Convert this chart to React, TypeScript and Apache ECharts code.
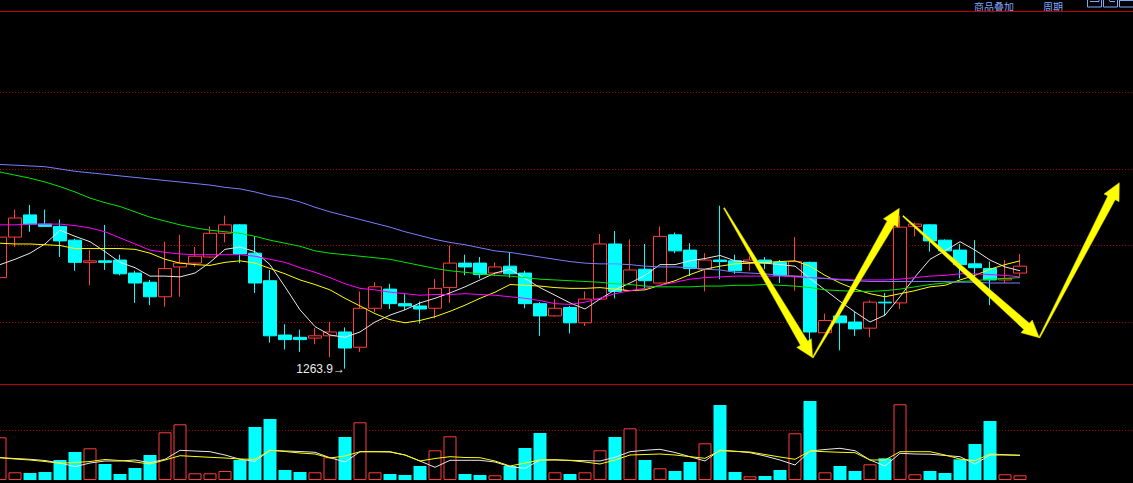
import React, { useEffect, useRef } from "react";
import * as echarts from "echarts";

// ---- DATA ----
const categories = Array.from({ length: 77 }, (_, i) => String(i + 1));

const openPrices = [
  1275.8, 1281.1, 1284.0, 1282.8, 1282.5, 1280.7, 1277.8, 1278.0, 1278.1, 1276.4,
  1275.2, 1273.3, 1277.2, 1277.7, 1278.5, 1281.6, 1282.7, 1279.0, 1275.4, 1268.3,
  1268.0, 1267.9, 1268.2, 1268.7, 1266.7, 1271.8, 1274.3, 1272.4, 1272.1, 1271.8,
  1274.5, 1277.7, 1277.7, 1276.4, 1277.3, 1276.4, 1272.4, 1270.8, 1271.9, 1269.9,
  1273.0, 1280.2, 1274.1, 1276.9, 1275.1, 1281.4, 1279.4, 1276.9, 1278.1, 1278.0,
  1277.7, 1278.1, 1277.8, 1276.0, 1277.8, 1268.6, 1270.8, 1270.0, 1269.2, 1272.6,
  1272.5, 1282.5, 1282.7, 1280.7, 1279.4, 1277.6, 1277.0, 1275.5, 1276.4,
];
const closePrices = [
  1281.1, 1283.6, 1282.8, 1282.5, 1280.6, 1277.8, 1278.0, 1277.8, 1276.3, 1275.1,
  1273.3, 1277.0, 1277.7, 1278.6, 1281.6, 1282.7, 1278.9, 1275.1, 1268.2, 1267.7,
  1267.7, 1268.2, 1268.7, 1266.6, 1271.8, 1274.6, 1272.4, 1272.1, 1271.7, 1274.4,
  1277.7, 1277.2, 1276.2, 1277.2, 1276.3, 1272.4, 1270.8, 1271.8, 1269.9, 1273.0,
  1280.2, 1274.0, 1276.8, 1275.4, 1281.2, 1279.3, 1277.0, 1278.1, 1277.9, 1276.7,
  1278.1, 1277.7, 1276.1, 1277.9, 1268.7, 1270.2, 1269.9, 1269.1, 1272.6, 1272.5,
  1282.4, 1282.8, 1280.6, 1279.3, 1277.5, 1277.1, 1275.5, 1275.7, 1277.3,
];
const lowPrices = [
  1274.6, 1279.8, 1281.8, 1282.5, 1278.5, 1276.7, 1274.8, 1276.8, 1276.1, 1272.5,
  1272.2, 1272.0, 1273.3, 1277.2, 1278.4, 1280.4, 1277.7, 1273.8, 1267.3, 1266.4,
  1266.1, 1267.1, 1265.4, 1263.9, 1266.1, 1271.3, 1271.7, 1271.6, 1269.8, 1270.5,
  1272.5, 1276.1, 1275.7, 1276.0, 1275.8, 1271.8, 1268.2, 1270.7, 1268.5, 1269.5,
  1272.9, 1273.1, 1274.0, 1274.4, 1275.0, 1279.0, 1276.0, 1274.0, 1275.6, 1276.3,
  1276.7, 1276.9, 1275.1, 1274.1, 1266.8, 1268.6, 1266.3, 1268.2, 1268.0, 1270.8,
  1271.7, 1281.2, 1279.2, 1279.2, 1275.7, 1275.9, 1272.2, 1275.1, 1276.0,
];
const highPrices = [
  1284.4, 1284.7, 1285.3, 1284.7, 1283.4, 1280.9, 1279.4, 1282.7, 1278.8, 1276.7,
  1275.5, 1280.5, 1281.4, 1279.8, 1282.5, 1283.9, 1282.8, 1281.2, 1276.8, 1269.7,
  1269.0, 1269.2, 1270.0, 1269.3, 1274.0, 1275.2, 1275.0, 1273.7, 1272.7, 1275.6,
  1280.0, 1278.8, 1278.5, 1277.8, 1279.1, 1276.7, 1272.6, 1273.0, 1272.1, 1274.0,
  1281.5, 1281.9, 1280.8, 1280.2, 1282.5, 1281.7, 1280.3, 1279.0, 1285.2, 1278.8,
  1278.6, 1278.5, 1278.1, 1281.1, 1277.9, 1271.1, 1271.1, 1271.3, 1272.8, 1273.8,
  1283.9, 1283.0, 1282.8, 1280.8, 1280.2, 1280.7, 1277.9, 1278.1, 1278.9,
];

const ma5 = [
  1277.5, 1278.2, 1279.0, 1280.2, 1282.0, 1281.2, 1280.5, 1279.2, 1277.8, 1277.1,
  1276.0, 1276.0, 1275.9, 1276.4, 1277.8, 1279.5, 1279.8, 1279.2, 1277.5, 1274.6,
  1271.6, 1269.4, 1268.3, 1268.0, 1268.7, 1270.0, 1270.9, 1271.6, 1272.5, 1273.1,
  1273.8, 1274.6, 1275.5, 1276.4, 1276.9, 1275.7, 1274.5, 1273.5, 1272.5, 1271.7,
  1273.0, 1274.2, 1275.1, 1276.1, 1277.5, 1277.5, 1278.0, 1278.3, 1278.7, 1278.0,
  1277.8, 1277.7, 1277.5, 1277.3, 1275.7, 1274.2, 1272.7, 1271.3, 1270.0, 1270.9,
  1273.3, 1275.9, 1278.2, 1279.3, 1280.5, 1279.4, 1278.1, 1277.2, 1276.7,
];
const ma10 = [
  1280.3, 1280.2, 1280.2, 1280.1, 1280.0, 1279.6, 1279.6, 1279.6, 1279.6, 1279.5,
  1279.0, 1278.2, 1277.7, 1277.5, 1277.4, 1277.8, 1278.0, 1277.7, 1277.0, 1276.3,
  1275.5, 1274.9, 1274.2, 1273.1, 1272.1, 1271.1, 1270.3, 1269.9, 1270.2, 1270.7,
  1271.4, 1272.2, 1273.1, 1273.9, 1274.9, 1274.8, 1274.7, 1274.5, 1274.4, 1274.4,
  1274.5, 1274.3, 1274.1, 1274.2, 1274.8, 1275.4, 1276.2, 1276.9, 1277.3, 1277.6,
  1277.7, 1277.8, 1277.9, 1278.0, 1277.3, 1276.1, 1275.1, 1274.3, 1273.7, 1273.3,
  1273.7, 1274.1, 1274.6, 1274.8, 1275.5, 1276.1, 1276.9, 1277.5, 1278.0,
];
const ma20 = [
  1282.7, 1282.7, 1282.8, 1282.8, 1282.8, 1282.6, 1282.3, 1281.8, 1281.0, 1280.2,
  1279.4, 1279.1, 1278.9, 1278.8, 1278.8, 1278.8, 1278.8, 1278.6, 1278.2, 1277.8,
  1277.1, 1276.5, 1275.8, 1275.0, 1274.4, 1274.2, 1273.9, 1273.7, 1273.5, 1273.6,
  1273.6, 1273.7, 1273.6, 1273.5, 1273.3, 1273.1, 1272.8, 1272.4, 1272.3, 1272.6,
  1273.1, 1273.7, 1274.1, 1274.4, 1274.8, 1275.2, 1275.6, 1275.8, 1275.9, 1276.0,
  1276.0, 1276.0, 1276.0, 1275.9, 1275.8, 1275.7, 1275.6, 1275.5, 1275.5, 1275.5,
  1275.6, 1275.8, 1276.0, 1276.1, 1276.3, 1276.3, 1276.2, 1276.1, 1275.9,
];
const ma40 = [
  1289.6, 1289.2, 1288.8, 1288.3, 1287.7, 1287.0, 1286.2, 1285.6, 1285.1, 1284.4,
  1283.7, 1283.2, 1282.7, 1282.3, 1282.0, 1281.8, 1281.6, 1281.2, 1280.7, 1280.3,
  1279.9, 1279.3, 1279.0, 1278.8, 1278.6, 1278.4, 1278.2, 1277.8, 1277.4, 1277.0,
  1276.7, 1276.5, 1276.3, 1276.1, 1276.0, 1275.8, 1275.6, 1275.5, 1275.4, 1275.3,
  1275.2, 1275.0, 1274.9, 1274.7, 1274.6, 1274.6, 1274.6, 1274.7, 1274.7, 1274.8,
  1274.8, 1274.9, 1274.8, 1274.7, 1274.5, 1274.2, 1274.1, 1274.0, 1274.0, 1274.1,
  1274.3, 1274.6, 1274.9, 1275.1, 1275.3, 1275.4, 1275.6, 1275.7, 1275.8,
];
const ma60 = [
  1290.6, 1290.5, 1290.4, 1290.3, 1290.0, 1289.7, 1289.5, 1289.3, 1289.1, 1288.9,
  1288.7, 1288.5, 1288.3, 1288.1, 1287.9, 1287.6, 1287.4, 1287.0, 1286.5, 1286.2,
  1285.7, 1285.0, 1284.4, 1283.9, 1283.4, 1282.9, 1282.4, 1281.8, 1281.3, 1280.8,
  1280.4, 1280.1, 1279.7, 1279.3, 1279.1, 1278.8, 1278.5, 1278.2, 1277.9, 1277.7,
  1277.6, 1277.6, 1277.5, 1277.3, 1277.2, 1277.2, 1277.1, 1276.9, 1276.8, 1276.5,
  1276.4, 1276.3, 1276.1, 1276.0, 1275.8, 1275.7, 1275.5, 1275.4, 1275.3, 1275.3,
  1275.3, 1275.3, 1275.3, 1275.3, 1275.2, 1275.2, 1275.1, 1275.1, 1275.1,
];

const volumes = [
  8540, 1540, 1400, 1600, 4000, 5600, 6340, 3200, 1200, 2400,
  5000, 9540, 11140, 1340, 1340, 1800, 4000, 10600, 12200, 2000,
  1600, 1540, 4540, 8600, 11540, 1540, 1200, 1000, 2800, 5940,
  8740, 1200, 1000, 940, 2800, 6400, 9400, 1540, 1200, 1540,
  5940, 8600, 10340, 4000, 2340, 1800, 3600, 7340, 15000, 1600,
  740, 800, 2000, 9340, 15800, 1540, 2800, 1800, 3140, 4340,
  15140, 1140, 1800, 1400, 4140, 7200, 11800, 1140, 940,
];
const volMa5 = [
  4460, 4300, 4140, 3900, 3400, 2660, 3400, 3800, 3800, 4000,
  3460, 4140, 5940, 5800, 5660, 5000, 4140, 3740, 5940, 5800,
  5700, 5540, 4460, 3600, 5660, 5660, 5600, 5000, 3800, 2540,
  3940, 3940, 3940, 3600, 2660, 2340, 4000, 4000, 3940, 3860,
  3800, 4540, 5660, 5940, 6140, 5500, 4660, 3800, 6000, 5740,
  5460, 4800, 4000, 3000, 5800, 6100, 6340, 5860, 4000, 2800,
  5340, 5200, 5160, 4900, 4660, 3200, 5000, 5000, 4940,
];
const volMa10 = [
  4460, 4200, 4000, 3700, 3340, 3500, 3700, 4100, 3900, 3600,
  3200, 4000, 4860, 4700, 4540, 4400, 4200, 4140, 5940, 5700,
  5400, 5200, 4400, 4800, 5660, 5660, 5660, 5000, 3800, 4300,
  4660, 4500, 4460, 3800, 2800, 3400, 4000, 4060, 3900, 3600,
  3200, 4000, 5000, 5100, 5200, 5000, 4660, 4340, 5860, 5740,
  5600, 5100, 4600, 4140, 5800, 5660, 5540, 5460, 4000, 4000,
  5660, 5660, 5660, 5000, 4200, 3860, 5200, 5060, 4940,
];

const priceGridLines = [1270, 1280, 1290, 1300];
const volumeGridLines = [10000];
const priceRange = [1261.9, 1310.65];
const volumeRange = [0, 19200];

// hand-drawn arrow annotations (screen pixels: start x, start y, tip x, tip y)
const arrowAnnotations = [
  [724, 208, 812.7, 357.7],
  [812.7, 357.7, 899.3, 208.3],
  [903, 216, 1039.3, 337.7],
  [1039.3, 337.7, 1119.3, 182.7],
];

const RED = "#ff3c3c";
const CYAN = "#00ffff";
const GRID_RED = "#a80000";

function arrowPoints(x1: number, y1: number, x2: number, y2: number) {
  const dx = x2 - x1;
  const dy = y2 - y1;
  const len = Math.hypot(dx, dy);
  const ux = dx / len;
  const uy = dy / len;
  const nx = -uy;
  const ny = ux;
  const L = 17;
  const hw = 8.5;
  const w1 = 4.2;
  const w0 = 0.6;
  const bx = x2 - ux * L;
  const by = y2 - uy * L;
  return [
    [x1 + nx * w0, y1 + ny * w0],
    [bx + nx * w1, by + ny * w1],
    [bx + nx * hw, by + ny * hw],
    [x2, y2],
    [bx - nx * hw, by - ny * hw],
    [bx - nx * w1, by - ny * w1],
    [x1 - nx * w0, y1 - ny * w0],
  ];
}

export default function App() {
  const ref = useRef<HTMLDivElement>(null);

  useEffect(() => {
    if (!ref.current) return;
    document.body.style.margin = "0";
    document.body.style.background = "#000";
    const chart = echarts.init(ref.current, null, { renderer: "svg" });

    const candleData = openPrices.map((o, i) => [o, closePrices[i], lowPrices[i], highPrices[i]]);
    const volumeData = volumes.map((v, i) => {
      const up = closePrices[i] >= openPrices[i];
      return {
        value: v,
        itemStyle: up
          ? { color: "#000000", borderColor: RED, borderWidth: 1 }
          : { color: CYAN, borderColor: CYAN, borderWidth: 0 },
      };
    });

    const maLine = (name: string, data: number[], color: string, xi: number, yi: number) => ({
      name,
      type: "line",
      xAxisIndex: xi,
      yAxisIndex: yi,
      data,
      symbol: "none",
      smooth: false,
      silent: true,
      clip: false,
      lineStyle: { color, width: 1 },
      z: 3,
    });

    const gridMark = (values: number[]) => ({
      silent: true,
      symbol: ["none", "none"],
      z: 1,
      label: { show: false },
      lineStyle: { color: GRID_RED, type: [1, 2], width: 1 },
      data: values.map((v) => ({ yAxis: v })),
    });

    const uiBlue = "#80aaff";
    const graphics: any[] = [
      {
        type: "line",
        shape: { x1: 0, y1: 11.5, x2: 1133, y2: 11.5 },
        style: { stroke: "#c00000", lineWidth: 1 },
        z: 5,
      },
      {
        type: "line",
        shape: { x1: 0, y1: 384.5, x2: 1133, y2: 384.5 },
        style: { stroke: "#c00000", lineWidth: 1 },
        z: 5,
      },
      {
        type: "text",
        x: 974,
        y: 1,
        style: {
          text: "商品叠加",
          fill: uiBlue,
          font: "10px 'Noto Sans CJK SC'",
          textVerticalAlign: "top",
        },
      },
      {
        type: "text",
        x: 1043,
        y: 1,
        style: {
          text: "周期",
          fill: uiBlue,
          font: "10px 'Noto Sans CJK SC'",
          textVerticalAlign: "top",
        },
      },
      {
        type: "rect",
        shape: { x: 1087.5, y: -8, width: 14, height: 15 },
        style: { stroke: uiBlue, fill: "none", lineWidth: 1 },
      },
      {
        type: "polyline",
        shape: { points: [[1090, 1.5], [1099, 1.5], [1099, -4]] },
        style: { stroke: uiBlue, fill: "none", lineWidth: 1 },
      },
      {
        type: "rect",
        shape: { x: 1103.5, y: -8, width: 14, height: 15 },
        style: { stroke: uiBlue, fill: "none", lineWidth: 1 },
      },
      {
        type: "polyline",
        shape: { points: [[1106, -4], [1110, 1.5], [1115, 1.5]] },
        style: { stroke: uiBlue, fill: "none", lineWidth: 1 },
      },
      {
        type: "rect",
        shape: { x: 1119.5, y: -8, width: 14, height: 15 },
        style: { stroke: uiBlue, fill: "none", lineWidth: 1 },
      },
      {
        type: "line",
        shape: { x1: 1119.5, y1: 0.5, x2: 1133, y2: 0.5 },
        style: { stroke: uiBlue, lineWidth: 1 },
      },
      ...arrowAnnotations.map(([x1, y1, x2, y2]) => ({
        type: "polygon",
        shape: { points: arrowPoints(x1, y1, x2, y2) },
        style: { fill: "#ffff00", stroke: "#d8d800", lineWidth: 0.5 },
        z: 20,
      })),
    ];

    const hiddenCat = (gridIndex: number) => ({
      type: "category",
      gridIndex,
      data: categories,
      boundaryGap: false,
      axisLine: { show: false },
      axisTick: { show: false },
      axisLabel: { show: false },
      splitLine: { show: false },
    });

    const option: any = {
      animation: false,
      backgroundColor: "#000000",
      grid: [
        { left: 0, width: 1140, top: 11, height: 373, outerBoundsMode: "none", containLabel: false },
        { left: 0, width: 1140, top: 384, height: 96, outerBoundsMode: "none", containLabel: false },
      ],
      xAxis: [hiddenCat(0), hiddenCat(1)],
      yAxis: [
        {
          type: "value",
          gridIndex: 0,
          min: priceRange[0],
          max: priceRange[1],
          axisLine: { show: false },
          axisTick: { show: false },
          axisLabel: { show: false },
          splitLine: { show: false },
        },
        {
          type: "value",
          gridIndex: 1,
          min: volumeRange[0],
          max: volumeRange[1],
          axisLine: { show: false },
          axisTick: { show: false },
          axisLabel: { show: false },
          splitLine: { show: false },
        },
      ],
      series: [
        {
          name: "K",
          type: "candlestick",
          xAxisIndex: 0,
          yAxisIndex: 0,
          data: candleData,
          barWidth: 13,
          silent: true,
          clip: false,
          z: 2,
          itemStyle: {
            color: "#000000",
            color0: CYAN,
            borderColor: RED,
            borderColor0: CYAN,
            borderWidth: 1,
          },
          markLine: gridMark(priceGridLines),
          markPoint: {
            symbol: "circle",
            symbolSize: 0,
            silent: true,
            z: 10,
            data: [{ type: "min", valueDim: "lowest" }],
            label: {
              show: true,
              position: "left",
              distance: 0,
              color: "#ececec",
              fontSize: 12,
              fontFamily: "Liberation Sans",
              formatter: (p: any) => Number(p.value).toFixed(1) + "→",
            },
          },
        },
        maLine("MA5", ma5, "#e8e8e8", 0, 0),
        maLine("MA10", ma10, "#ffff00", 0, 0),
        maLine("MA20", ma20, "#ff00ff", 0, 0),
        maLine("MA40", ma40, "#00e600", 0, 0),
        maLine("MA60", ma60, "#7c7cff", 0, 0),
        {
          name: "VOL",
          type: "bar",
          xAxisIndex: 1,
          yAxisIndex: 1,
          data: volumeData,
          barWidth: 13,
          silent: true,
          z: 2,
          markLine: gridMark(volumeGridLines),
        },
        maLine("VMA5", volMa5, "#e8e8e8", 1, 1),
        maLine("VMA10", volMa10, "#ffff00", 1, 1),
      ],
      graphic: graphics,
    };

    chart.setOption(option);
    return () => {
      chart.dispose();
    };
  }, []);

  return (
    <div
      ref={ref}
      style={{ position: "fixed", left: 0, top: 0, width: 1133, height: 483, background: "#000" }}
    />
  );
}
